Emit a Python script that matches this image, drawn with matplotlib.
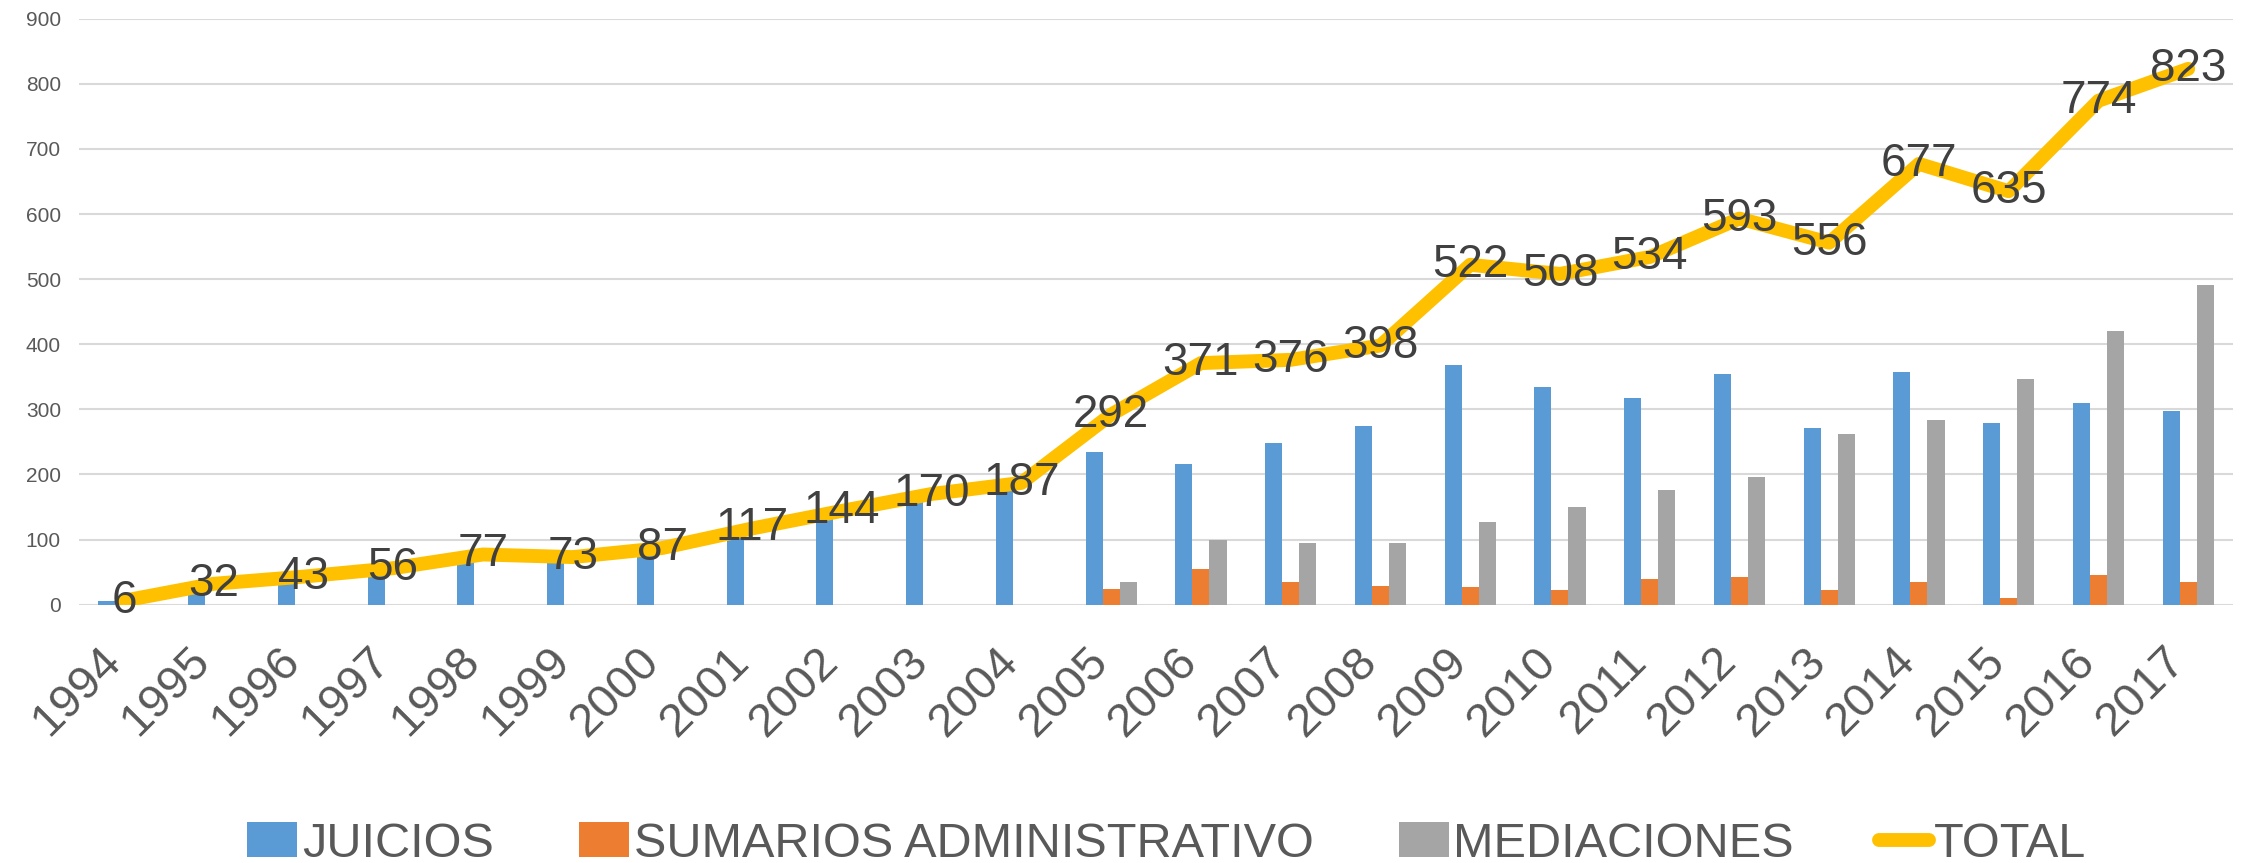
import matplotlib
matplotlib.use("Agg")
import matplotlib.pyplot as plt
import matplotlib.transforms as mtransforms
import numpy as np

plt.rcParams["font.family"] = ["Liberation Sans", "DejaVu Sans"]

years = [str(y) for y in range(1994, 2018)]
juicios = [6, 32, 43, 56, 77, 73, 87, 117, 144, 170, 187,
           234, 216, 248, 275, 368, 335, 318, 354, 271, 358, 279, 309, 298]
sumarios = [0, 0, 0, 0, 0, 0, 0, 0, 0, 0, 0,
            24, 55, 34, 29, 27, 23, 40, 43, 23, 35, 10, 45, 34]
mediaciones = [0, 0, 0, 0, 0, 0, 0, 0, 0, 0, 0,
               34, 100, 94, 94, 127, 150, 176, 196, 262, 284, 346, 420, 491]
total = [6, 32, 43, 56, 77, 73, 87, 117, 144, 170, 187,
         292, 371, 376, 398, 522, 508, 534, 593, 556, 677, 635, 774, 823]

C_BLUE = "#5B9BD5"
C_ORANGE = "#ED7D31"
C_GRAY = "#A5A5A5"
C_GOLD = "#FFC000"
C_TEXT = "#595959"

fig = plt.figure(figsize=(22.52, 8.63), dpi=100)
ax = fig.add_axes([0.0351, 0.2994, 0.9565, 0.6789])

x = np.arange(len(years))
w = 0.19
b1 = ax.bar(x - w, juicios, w, color=C_BLUE, label="JUICIOS", zorder=2)
b2 = ax.bar(x, sumarios, w, color=C_ORANGE, label="SUMARIOS ADMINISTRATIVO", zorder=2)
b3 = ax.bar(x + w, mediaciones, w, color=C_GRAY, label="MEDIACIONES", zorder=2)
ln, = ax.plot(x, total, color=C_GOLD, linewidth=10, solid_capstyle="round",
              solid_joinstyle="round", label="TOTAL", zorder=3)

for xi, v in zip(x, total):
    ax.text(xi, v, str(v), ha="center", va="center", fontsize=33,
            color="#404040", zorder=4)

ax.set_xlim(-0.5, len(years) - 0.5)
ax.set_ylim(0, 900)
ax.set_yticks(range(0, 901, 100))
ax.yaxis.grid(True, color="#D9D9D9", linewidth=1.5, zorder=0)
ax.set_axisbelow(True)
for s in ax.spines.values():
    s.set_visible(False)

ax.tick_params(axis="y", length=0, pad=13, labelsize=15, labelcolor=C_TEXT)
ax.tick_params(axis="x", length=0, pad=36, labelsize=34, labelcolor=C_TEXT)
ax.set_xticks(x)
ax.set_xticklabels(years, rotation=45, ha="right", va="center",
                   rotation_mode="anchor")
shift = mtransforms.ScaledTranslation(-10 / 100, 0, fig.dpi_scale_trans)
for lab in ax.get_xticklabels():
    lab.set_transform(lab.get_transform() + shift)

fig.legend([b1, b2, b3, ln],
           ["JUICIOS", "SUMARIOS ADMINISTRATIVO", "MEDIACIONES", "TOTAL"],
           loc="center", bbox_to_anchor=(0.518, 0.022), ncol=4, frameon=False,
           fontsize=35, labelcolor=C_TEXT, handlelength=1.03,
           handletextpad=0.1, columnspacing=1.75, borderaxespad=0)

fig.savefig("out.png", dpi=100)
